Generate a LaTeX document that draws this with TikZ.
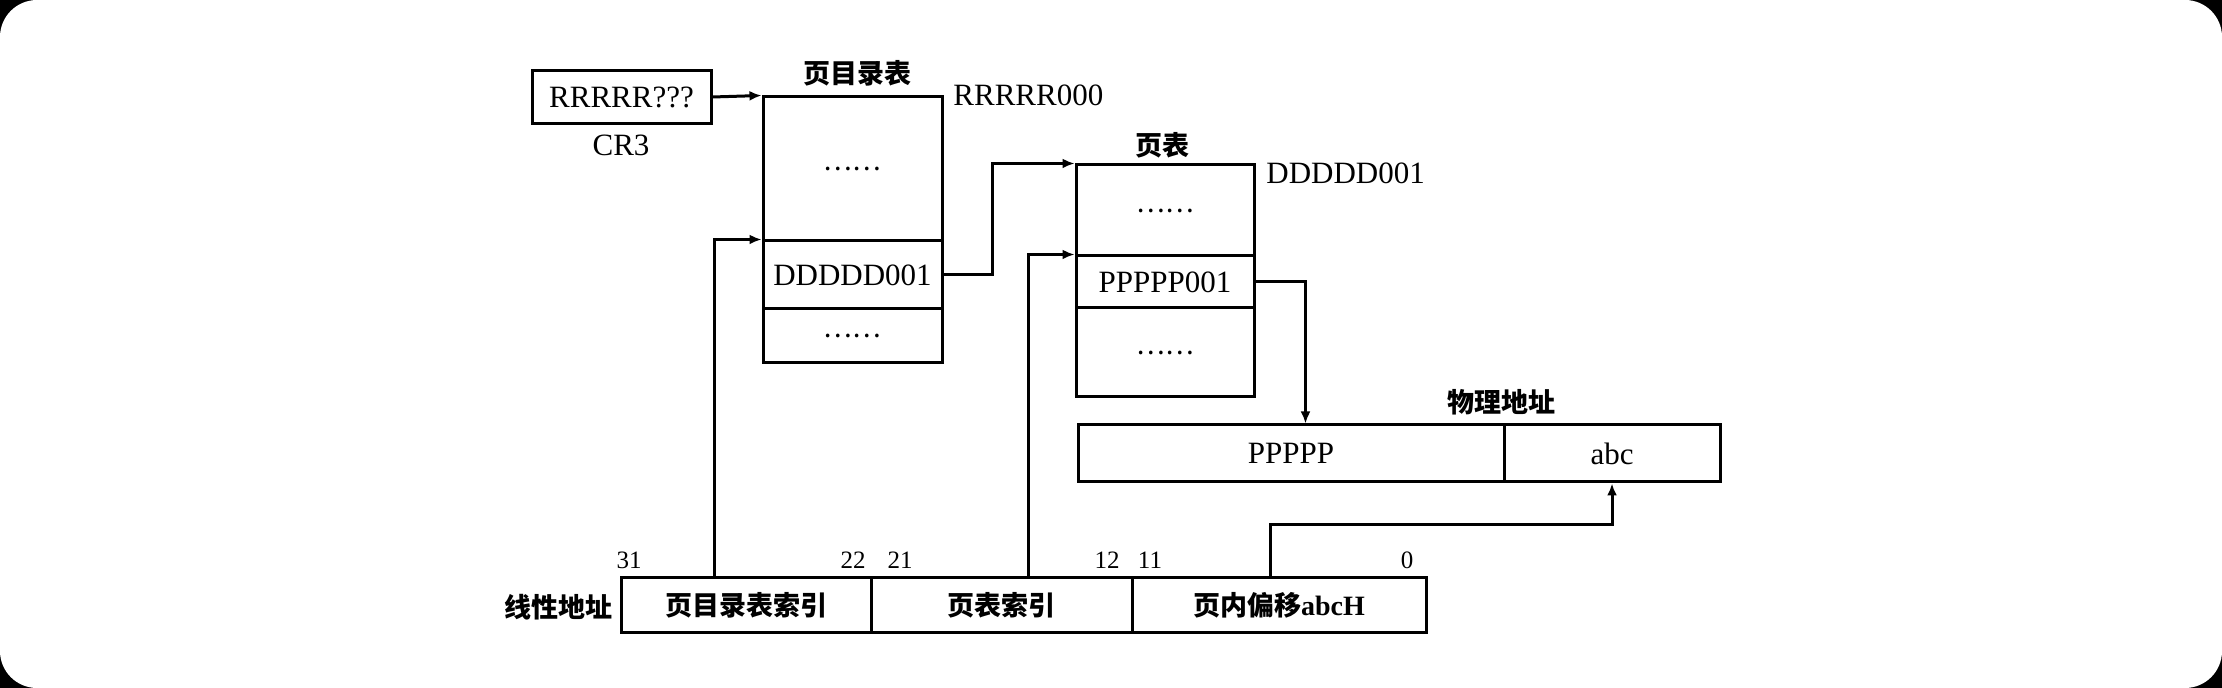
\documentclass[tikz,border=0pt]{standalone}
\usepackage{fontspec}
\setmainfont{Liberation Serif}
\newfontfamily\cjk{Noto Sans CJK SC}
\usetikzlibrary{arrows.meta,calc}
\begin{document}
\begin{tikzpicture}[x=0.5pt,y=-0.5pt,
  every node/.style={inner sep=0pt},
  cell/.style={draw,line width=1.5pt},
  lat/.style={font=\fontsize{15.5}{18}\selectfont},
  zh/.style={font=\cjk\bfseries\fontsize{13.5}{16}\selectfont},
  dotsf/.style={font=\cjk\fontsize{13.5}{16}\selectfont},
  num/.style={font=\fontsize{12.5}{15}\selectfont},
  wire/.style={line width=1.5pt},
  arr/.style={wire,-{Latex[length=6pt,width=5pt]}}]
% background card
\fill[black] (0,0) rectangle (2222,688);
\fill[white,rounded corners=18.5pt] (0,0) rectangle (2222,688);
% CR3
\node[cell,lat,minimum width=89.5pt,minimum height=26.5pt] (cr3) at (621.5,97) {RRRRR???};
\node[lat] (cr3l) at (621,145) {CR3};
% page directory
\node[cell,dotsf,minimum width=89.5pt,minimum height=72pt] (pd1) at (852.5,169) {……};
\node[cell,lat,minimum width=89.5pt,minimum height=34pt] (pd2) at (852.5,275) {DDDDD001};
\node[cell,dotsf,minimum width=89.5pt,minimum height=27pt] (pd3) at (852.5,336) {……};
\node[zh] (pdt) at (857,73) {页目录表};
\node[lat,anchor=west] (pda) at (953,95) {RRRRR000};
% page table
\node[cell,dotsf,minimum width=89pt,minimum height=45.5pt] (pt1) at (1165,210.5) {……};
\node[cell,lat,minimum width=89pt,minimum height=26pt] (pt2) at (1165,282) {PPPPP001};
\node[cell,dotsf,minimum width=89pt,minimum height=44.5pt] (pt3) at (1165,352.5) {……};
\node[zh] (ptt) at (1162,145) {页表};
\node[lat,anchor=west] (pta) at (1266,173) {DDDDD001};
% physical address
\node[cell,lat,minimum width=213pt,minimum height=28.5pt] (pa1) at (1291,453.5) {PPPPP};
\node[cell,lat,minimum width=108pt,minimum height=28.5pt] (pa2) at (1612,453.5) {abc};
\node[zh] (pat) at (1501,402) {物理地址};
% linear address
\node[cell,zh,minimum width=125pt,minimum height=27.5pt] (la1) at (746,605.5) {页目录表索引};
\node[cell,zh,minimum width=130.5pt,minimum height=27.5pt] (la2) at (1001.5,605.5) {页表索引};
\node[cell,minimum width=147pt,minimum height=27.5pt] (la3) at (1279,605.5) {{\cjk\bfseries\fontsize{13.5}{16}\selectfont 页内偏移}{\fontsize{14}{16}\selectfont\bfseries abcH}};
\node[zh,anchor=east] (lat) at (613,607) {线性地址};
\node[num] (n31) at (629,560) {31};
\node[num] (n22) at (853,560) {22};
\node[num] (n21) at (900,560) {21};
\node[num] (n12) at (1107,560) {12};
\node[num] (n11) at (1150,560) {11};
\node[num] (n0) at (1407,560) {0};
% connectors
\draw[arr] (cr3.east) -- (pd1.north west);
\coordinate (c1) at (714,578);
\draw[arr] (c1) |- (pd2.north west);
\coordinate (c2) at (1028,578);
\draw[arr] (c2) |- (pt2.north west);
\coordinate (k1) at ($(pd2.east)+(49,0)$);
\draw[arr] (pd2.east) -- (k1) |- (pt1.north west);
\coordinate (k2) at ($(pt2.east)+(50,0)$);
\draw[arr] (pt2.east) -- (k2) -- (k2 |- pa1.north);
\coordinate (c3) at (1270,578);
\coordinate (k3) at ($(pa2.south)+(0,41)$);
\draw[arr] (c3) |- (k3) -- (pa2.south);
\end{tikzpicture}
\end{document}
